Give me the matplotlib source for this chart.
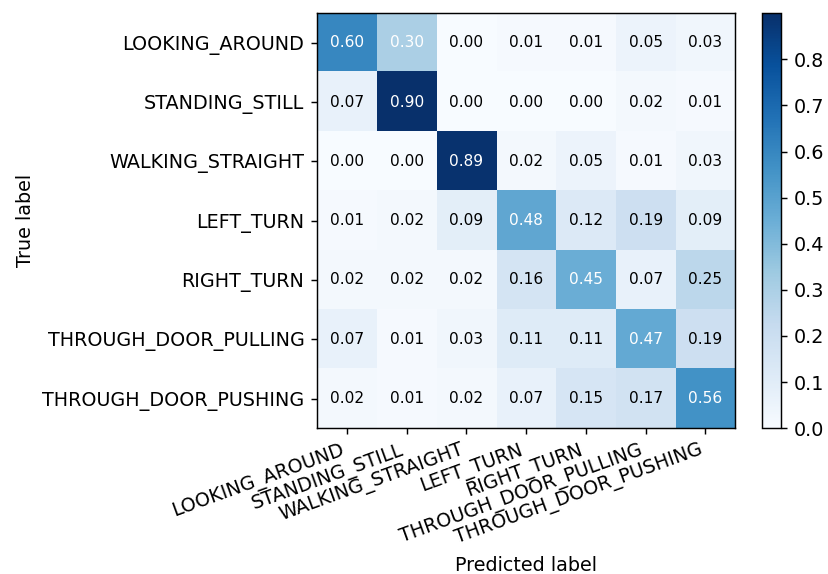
import numpy as np
import matplotlib
matplotlib.use("Agg")
import matplotlib.pyplot as plt

classes = ["LOOKING_AROUND", "STANDING_STILL", "WALKING_STRAIGHT", "LEFT_TURN",
           "RIGHT_TURN", "THROUGH_DOOR_PULLING", "THROUGH_DOOR_PUSHING"]

row_looking_around = [0.60, 0.30, 0.00, 0.01, 0.01, 0.05, 0.03]
row_standing_still = [0.07, 0.90, 0.00, 0.00, 0.00, 0.02, 0.01]
row_walking_straight = [0.00, 0.00, 0.89, 0.02, 0.05, 0.01, 0.03]
row_left_turn = [0.01, 0.02, 0.09, 0.48, 0.12, 0.19, 0.09]
row_right_turn = [0.02, 0.02, 0.02, 0.16, 0.45, 0.07, 0.25]
row_door_pulling = [0.07, 0.01, 0.03, 0.11, 0.11, 0.47, 0.19]
row_door_pushing = [0.02, 0.01, 0.02, 0.07, 0.15, 0.17, 0.56]

cm = np.array([row_looking_around, row_standing_still, row_walking_straight,
               row_left_turn, row_right_turn, row_door_pulling, row_door_pushing])

plt.rcParams["font.size"] = 10.6

dpi = 130
fig = plt.figure(figsize=(828 / dpi, 574 / dpi), dpi=dpi)
ax = fig.add_axes([0.383, 0.254, 0.505, 0.723])
cax = fig.add_axes([0.920, 0.254, 0.023, 0.723])

im = ax.imshow(cm, interpolation="nearest", cmap=plt.cm.Blues,
               vmin=0, vmax=cm.max(), aspect="auto")
cb = fig.colorbar(im, cax=cax)
cb.set_ticks(np.arange(0, 0.85, 0.1))

ticks = np.arange(len(classes))
ax.set_xticks(ticks)
ax.set_xticklabels(classes, rotation=20, ha="right")
ax.set_yticks(ticks)
ax.set_yticklabels(classes)

thresh = 0.28
for i in range(cm.shape[0]):
    for j in range(cm.shape[1]):
        ax.text(j, i, format(cm[i, j], ".2f"), ha="center", va="center",
                fontsize=8.5, color="white" if cm[i, j] > thresh else "black")

ax.set_ylabel("True label")
ax.set_xlabel("Predicted label")

fig.savefig("out.png", dpi=dpi)
